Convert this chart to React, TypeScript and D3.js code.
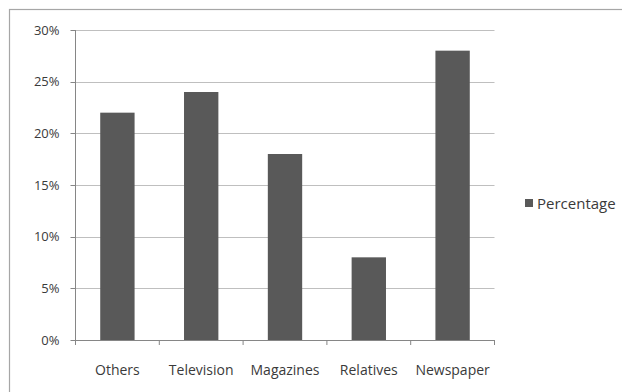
import React from "react";
import * as d3 from "d3";

const categories = ["Others", "Television", "Magazines", "Relatives", "Newspaper"];
const values = [22, 24, 18, 8, 28];
const yTicks = [0, 5, 10, 15, 20, 25, 30];
const seriesName = "Percentage";

export default function App() {
  const W = 622, H = 392;
  const left = 75.5, right = 494.5, top = 30, bottom = 340;
  const x = d3.scaleBand<string>().domain(categories).range([left, right]).paddingInner(0.59).paddingOuter(0.295);
  const y = d3.scaleLinear().domain([0, 30]).range([bottom, top]);
  const band = (right - left) / categories.length;
  const font = "'Open Sans', 'DejaVu Sans', sans-serif";
  return (
    <svg width={W} height={H} style={{ position: "absolute", left: 0, top: 0, background: "#fff" }} fontFamily={font}>
      <rect x={9.5} y={9.5} width={W} height={H} fill="#fff" stroke="#a6a6a6" strokeWidth={1.2} />
      {yTicks.map((t) => (
        <g key={t}>
          {t > 0 && <line x1={left} x2={right} y1={Math.round(y(t)) + 0.5} y2={Math.round(y(t)) + 0.5} stroke="#bfbfbf" strokeWidth={1} />}
          <line x1={left - 5} x2={left} y1={Math.round(y(t)) + 0.5} y2={Math.round(y(t)) + 0.5} stroke="#868686" />
          <text x={left - 16} y={y(t) + 4.5} textAnchor="end" fontSize={13} fill="#3a3a3a">{t}%</text>
        </g>
      ))}
      {categories.map((c, i) => (
        <rect key={c} x={x(c)} y={y(values[i])} width={x.bandwidth()} height={y(0) - y(values[i])} fill="#595959" />
      ))}
      <line x1={left} x2={left} y1={top} y2={bottom} stroke="#868686" />
      <line x1={left} x2={right} y1={bottom + 0.5} y2={bottom + 0.5} stroke="#868686" />
      {d3.range(categories.length + 1).map((i) => (
        <line key={i} x1={left + band * i} x2={left + band * i} y1={bottom} y2={bottom + 5} stroke="#868686" />
      ))}
      {categories.map((c) => (
        <text key={c} x={(x(c) as number) + x.bandwidth() / 2} y={374.5} textAnchor="middle" fontSize={14} fill="#3a3a3a">{c}</text>
      ))}
      <rect x={525} y={199} width={8} height={8} fill="#595959" />
      <text x={537} y={209} fontSize={15} fill="#3a3a3a">{seriesName}</text>
    </svg>
  );
}
